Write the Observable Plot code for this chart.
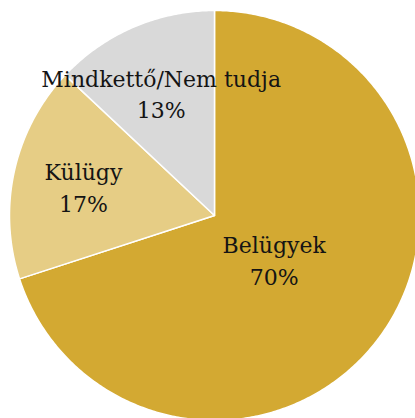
<!DOCTYPE html>
<html><head><meta charset="utf-8">
<script src="https://cdn.jsdelivr.net/npm/d3@7"></script>
<script src="https://cdn.jsdelivr.net/npm/@observablehq/plot@0.6"></script>
<style>html,body{margin:0;padding:0;background:#fff;overflow:hidden}</style>
</head><body><div id="chart"></div>
<script>
const categories = ["Belügyek", "Külügy", "Mindkettő/Nem tudja"];
const values = [70, 17, 13];
const labels = ["70%", "17%", "13%"];
const colors = ["#D3A932", "#E6CD85", "#D9D9D9"];

const W = 415, H = 418;
const cx = 214, cy = 215, R = 205;

const pie = d3.pie().sort(null).value(d => d.value);
const arcs = pie(categories.map((c, i) => ({name: c, value: values[i], label: labels[i]})));

const poly = [];
arcs.forEach(a => {
  const n = Math.max(2, Math.ceil((a.endAngle - a.startAngle) / 0.01));
  poly.push({name: a.data.name, x: 0, y: 0});
  for (let k = 0; k <= n; k++) {
    const t = a.startAngle + (a.endAngle - a.startAngle) * k / n;
    poly.push({name: a.data.name, x: Math.sin(t), y: Math.cos(t)});
  }
  poly.push({name: a.data.name, x: 0, y: 0});
});

const textData = arcs.map(a => {
  const mid = (a.startAngle + a.endAngle) / 2;
  const r = a.data.value > 50 ? 0.36 : 0.655;
  return {text: a.data.name + "\n" + a.data.label, x: Math.sin(mid) * r, y: Math.cos(mid) * r};
});

const chart = Plot.plot({
  width: W, height: H,
  margin: 0,
  x: {domain: [-cx / R, (W - cx) / R], range: [0, W], axis: null},
  y: {domain: [-(H - cy) / R, cy / R], range: [H, 0], axis: null},
  color: {domain: categories, range: colors},
  style: {background: "#fff", overflow: "hidden", fontFamily: "DejaVu Serif"},
  marks: [
    Plot.line(poly, {x: "x", y: "y", z: "name", fill: "name", stroke: "#fff", strokeWidth: 1.5, strokeLinejoin: "round", curve: "linear"}),
    Plot.text(textData, {x: "x", y: "y", text: "text", fontFamily: "DejaVu Serif", fontSize: 22, lineHeight: 1.45, fill: "#141414"})
  ]
});
document.getElementById("chart").appendChild(chart);
</script>
</body></html>
